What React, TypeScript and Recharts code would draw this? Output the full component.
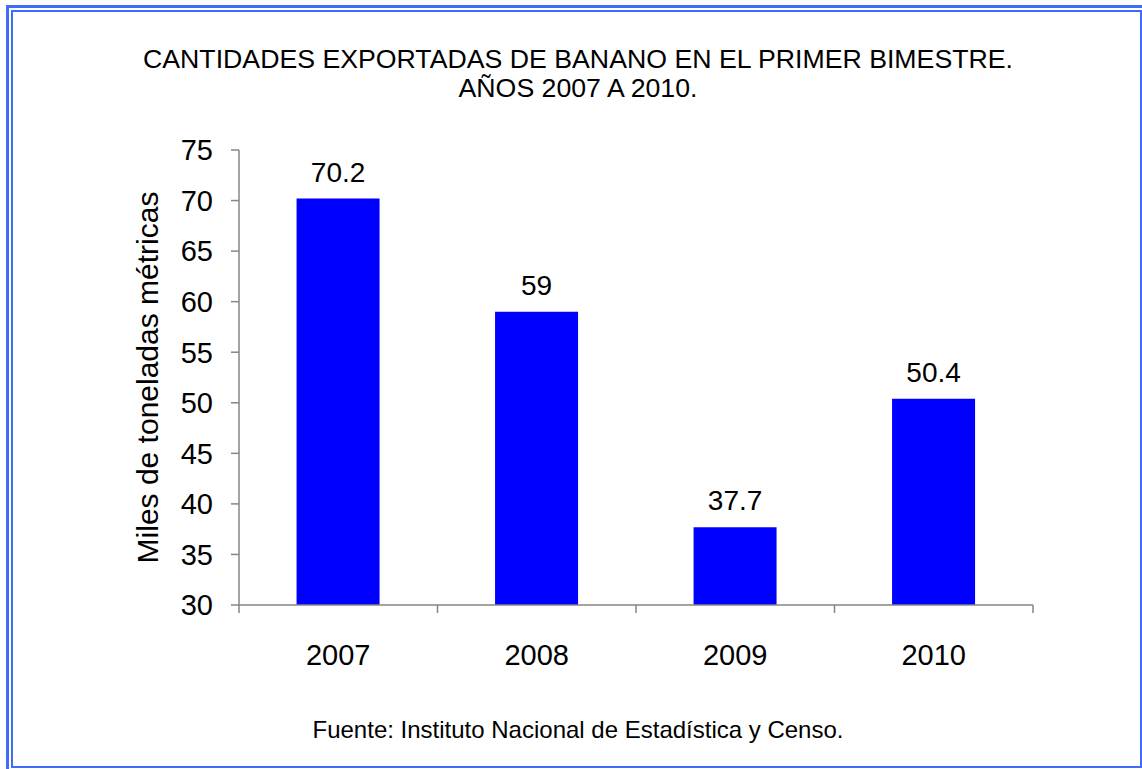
import React from 'react'
import { BarChart, Bar, XAxis, YAxis, LabelList } from 'recharts'

const years = ['2007', '2008', '2009', '2010']
const toneladas = [70.2, 59, 37.7, 50.4]
const yTicks = [30, 35, 40, 45, 50, 55, 60, 65, 70, 75]

const data = years.map((year, i) => ({ year, value: toneladas[i] }))

const FONT = '"Liberation Sans", Arial, sans-serif'
const AXIS = '#868686'
const FRAME = '#3F6CF8'

// category tick: label at the center, tick marks at the category boundaries
const YearTick = (props: any) => {
  const { x, y, payload, index } = props
  const half = payload.offset || 0
  return (
    <g>
      <line x1={x - half} y1={y - 38} x2={x - half} y2={y - 30} stroke={AXIS} strokeWidth={1.5} />
      {index === years.length - 1 && (
        <line x1={x + half} y1={y - 38} x2={x + half} y2={y - 30} stroke={AXIS} strokeWidth={1.5} />
      )}
      <text x={x} y={y + 22} textAnchor="middle" fontSize={29} fill="#000" fontFamily={FONT}>
        {payload.value}
      </text>
    </g>
  )
}

const App: React.FC = () => {
  return (
    <div style={{ position: 'absolute', left: 0, top: 0, width: 1142, height: 769, background: '#fff', fontFamily: FONT }}>
      <div style={{ position: 'absolute', left: 6, top: 5, width: 1150, height: 780, borderLeft: `3px solid ${FRAME}`, borderTop: `3px solid ${FRAME}` }} />
      <div style={{ position: 'absolute', left: 11, top: 10, width: 1127, height: 754, border: `2px solid ${FRAME}` }} />

      <div style={{ position: 'absolute', left: 0, width: 1156, top: 45, textAlign: 'center', fontSize: 26.7, lineHeight: '29px', color: '#000' }}>
        CANTIDADES EXPORTADAS DE BANANO EN EL PRIMER BIMESTRE.
        <br />
        AÑOS 2007 A 2010.
      </div>

      <div style={{ position: 'absolute', left: 0, top: 0 }}>
        <BarChart
          width={1142}
          height={769}
          data={data}
          margin={{ top: 150, right: 109, bottom: 104, left: 180 }}
          barCategoryGap="29%"
        >
          <XAxis
            dataKey="year"
            height={60}
            axisLine={{ stroke: AXIS, strokeWidth: 1.5 }}
            tickLine={false}
            tickMargin={30}
            tickSize={8}
            tick={<YearTick />}
            interval={0}
          />
          <YAxis
            width={59}
            domain={[30, 75]}
            ticks={yTicks}
            interval={0}
            axisLine={{ stroke: AXIS, strokeWidth: 1.5 }}
            tickLine={{ stroke: AXIS, strokeWidth: 1.5 }}
            tickSize={8}
            tickMargin={18}
            tick={{ fontSize: 29, fill: '#000', fontFamily: FONT }}
            label={{
              content: (p: any) => {
                const vb = p.viewBox
                const cx = 147
                const cy = vb.y + vb.height / 2
                return (
                  <text
                    x={cx}
                    y={cy}
                    transform={`rotate(-90 ${cx} ${cy})`}
                    textAnchor="middle"
                    dominantBaseline="central"
                    fontSize={30}
                    fill="#000"
                    fontFamily={FONT}
                  >
                    Miles de toneladas métricas
                  </text>
                )
              },
            }}
          />
          <Bar dataKey="value" fill="#0000FF" isAnimationActive={false}>
            <LabelList dataKey="value" position="top" offset={17} fontSize={28} fill="#000" fontFamily={FONT} />
          </Bar>
        </BarChart>
      </div>

      <div style={{ position: 'absolute', left: 0, width: 1156, top: 716, textAlign: 'center', fontSize: 24, color: '#000' }}>
        Fuente: Instituto Nacional de Estadística y Censo.
      </div>
    </div>
  )
}

export default App
